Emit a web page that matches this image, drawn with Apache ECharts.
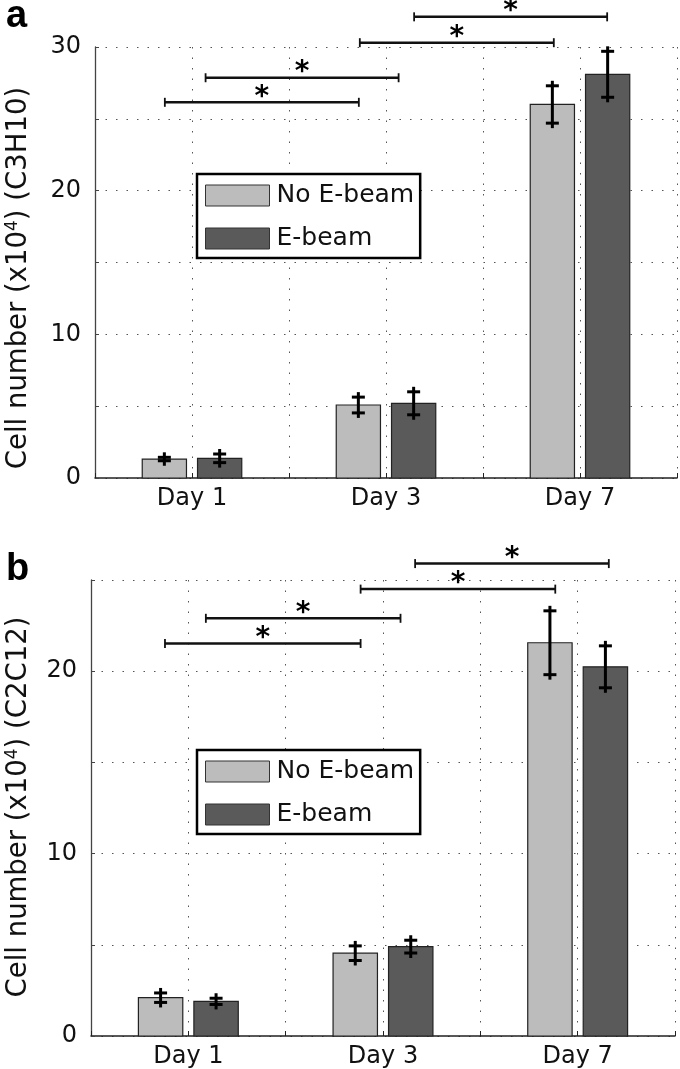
<!DOCTYPE html>
<html>
<head>
<meta charset="utf-8">
<script src="https://cdn.jsdelivr.net/npm/echarts@6/dist/echarts.min.js"></script>
<style>html,body{margin:0;padding:0;background:#fff}#c{width:680px;height:1069px}</style>
</head>
<body>
<div id="c"></div>
<script>
// ---- data ----
var days = ['Day 1', 'Day 3', 'Day 7'];
var dayPos = [1, 3, 5];
var seriesNames = ['No E-beam', 'E-beam'];

// panel a (C3H10)
var aNoBeam = [1.32, 5.08, 26.0];
var aNoBeamErr = [0.12, 0.55, 1.3];
var aBeam = [1.37, 5.2, 28.1];
var aBeamErr = [0.3, 0.8, 1.6];
var aSigStart = [0.72, 1.14, 2.73, 3.29];
var aSigEnd = [2.72, 3.13, 4.73, 5.28];
var aSigY = [26.15, 27.86, 30.3, 32.1];

// panel b (C2C12)
var bNoBeam = [2.1, 4.54, 21.56];
var bNoBeamErr = [0.26, 0.4, 1.75];
var bBeam = [1.9, 4.9, 20.24];
var bBeamErr = [0.17, 0.35, 1.15];
var bSigStart = [0.76, 1.18, 2.77, 3.33];
var bSigEnd = [2.77, 3.18, 4.77, 5.32];
var bSigY = [21.52, 22.9, 24.5, 25.9];

var yTicksA = {min: 0, max: 30, step: 5, labelStep: 10};
var yTicksB = {min: 0, max: 25, step: 5, labelStep: 10};

// ---- styling ----
var FONT = 'DejaVu Sans';
var LIGHT = '#bcbcbc';
var DARK = '#5a5a5a';
var BAR_W = 0.456;
var OFFSETS = [-0.285, 0.285];

function barData(vals, errs) {
  return vals.map(function (v, i) { return [dayPos[i], v, errs[i]]; });
}
function sigData(s, e, y) {
  return s.map(function (v, i) { return [v, e[i], y[i]]; });
}

function barRender(offset) {
  return function (params, api) {
    var x = api.value(0) + offset, v = api.value(1), e = api.value(2);
    var p0 = api.coord([x - BAR_W / 2, v]);
    var p1 = api.coord([x + BAR_W / 2, 0]);
    var c = api.coord([x, v]);
    var top = api.coord([x, v + e]);
    var bot = api.coord([x, v - e]);
    var st = api.style();
    return {
      type: 'group',
      children: [
        {type: 'rect', shape: {x: p0[0], y: p0[1], width: p1[0] - p0[0], height: p1[1] - p0[1]},
         style: {fill: st.fill, stroke: '#222', lineWidth: 1.2}},
        {type: 'line', shape: {x1: c[0], y1: top[1] - 5, x2: c[0], y2: bot[1] + 5},
         style: {stroke: '#000', lineWidth: 3}},
        {type: 'line', shape: {x1: c[0] - 6.5, y1: top[1], x2: c[0] + 6.5, y2: top[1]},
         style: {stroke: '#000', lineWidth: 3}},
        {type: 'line', shape: {x1: c[0] - 6.5, y1: bot[1], x2: c[0] + 6.5, y2: bot[1]},
         style: {stroke: '#000', lineWidth: 3}}
      ]
    };
  };
}

function sigRender(params, api) {
  var a = api.coord([api.value(0), api.value(2)]);
  var b = api.coord([api.value(1), api.value(2)]);
  var y = a[1];
  return {
    type: 'group',
    children: [
      {type: 'line', shape: {x1: a[0], y1: y, x2: b[0], y2: y}, style: {stroke: '#111', lineWidth: 2.5}},
      {type: 'line', shape: {x1: a[0], y1: y - 4.5, x2: a[0], y2: y + 4.5}, style: {stroke: '#111', lineWidth: 1.8}},
      {type: 'line', shape: {x1: b[0], y1: y - 4.5, x2: b[0], y2: y + 4.5}, style: {stroke: '#111', lineWidth: 1.8}},
      {type: 'text', x: (a[0] + b[0]) / 2, y: y - 5,
       style: {text: '*', fill: '#000', font: 'bold 28px "DejaVu Sans"', align: 'center', verticalAlign: 'middle'}}
    ]
  };
}

function xAxis(gi) {
  return {
    type: 'value', gridIndex: gi, min: 0, max: 6, interval: 1,
    axisLine: {lineStyle: {color: '#222', width: 1.5}},
    axisTick: {inside: true, length: 5, lineStyle: {color: '#222'}},
    axisLabel: {
      margin: 9, color: '#111', fontFamily: FONT, fontSize: 24,
      formatter: function (v) { var i = dayPos.indexOf(v); return i >= 0 ? days[i] : ''; }
    },
    splitLine: {show: true, lineStyle: {type: [1.5, 9], color: '#555', width: 1}}
  };
}
function yAxis(gi, t) {
  return {
    type: 'value', gridIndex: gi, min: t.min, max: t.max, interval: t.step,
    axisLine: {show: true, lineStyle: {color: '#444', width: 1.3}},
    axisTick: {show: true, inside: true, length: 4, lineStyle: {color: '#444'}},
    axisLabel: {
      margin: 14, color: '#111', fontFamily: FONT, fontSize: 24,
      formatter: function (v) { return v % t.labelStep === 0 ? String(v) : ''; }
    },
    splitLine: {show: true, lineStyle: {type: [1.5, 9], color: '#555', width: 1}}
  };
}

var colors = [LIGHT, DARK];
var series = [];
[[aNoBeam, aNoBeamErr, aBeam, aBeamErr, 0], [bNoBeam, bNoBeamErr, bBeam, bBeamErr, 1]].forEach(function (p) {
  var gi = p[4];
  [0, 1].forEach(function (k) {
    series.push({
      type: 'custom', name: seriesNames[k], xAxisIndex: gi, yAxisIndex: gi,
      itemStyle: {color: colors[k]},
      encode: {x: 0, y: 1},
      renderItem: barRender(OFFSETS[k]),
      data: barData(p[k * 2], p[k * 2 + 1]),
      z: 3
    });
  });
});
series.push({type: 'custom', xAxisIndex: 0, yAxisIndex: 0, clip: false, renderItem: sigRender,
  encode: {x: 0, y: 2}, data: sigData(aSigStart, aSigEnd, aSigY), z: 4});
series.push({type: 'custom', xAxisIndex: 1, yAxisIndex: 1, clip: false, renderItem: sigRender,
  encode: {x: 0, y: 2}, data: sigData(bSigStart, bSigEnd, bSigY), z: 4});

function legend(top) {
  return {
    left: 197, top: top, orient: 'vertical', selectedMode: false,
    data: seriesNames.map(function (n) { return {name: n, icon: 'rect'}; }),
    itemWidth: 64, itemHeight: 21, itemGap: 18,
    padding: [9, 6, 7, 8],
    backgroundColor: '#fff', borderColor: '#000', borderWidth: 2.5,
    itemStyle: {borderColor: '#333', borderWidth: 1},
    textStyle: {fontFamily: FONT, fontSize: 25, color: '#111', lineHeight: 21, padding: [0, 0, 0, 2]}
  };
}

var ylabelRich = {sup: {fontSize: 17, fontFamily: FONT, fill: '#111', verticalAlign: 'bottom', padding: [0, 0, 12, 0]}};

var option = {
  animation: false,
  backgroundColor: '#fff',
  grid: [
    {left: 95, right: 1, top: 47, bottom: 591, containLabel: false},
    {left: 91, right: 5, top: 580, bottom: 33, containLabel: false}
  ],
  xAxis: [xAxis(0), xAxis(1)],
  yAxis: [yAxis(0, yTicksA), yAxis(1, yTicksB)],
  legend: [legend(174), legend(750)],
  series: series,
  graphic: [
    {type: 'text', left: 6, top: -2, style: {text: 'a', font: 'bold 38px "Liberation Sans"', fill: '#000'}},
    {type: 'text', left: 6, top: 551, style: {text: 'b', font: 'bold 38px "Liberation Sans"', fill: '#000'}},
    {type: 'text', x: 19, y: 278, rotation: Math.PI / 2,
     style: {text: 'Cell number (x10{sup|4}) (C3H10)', font: '27.5px "DejaVu Sans"', fill: '#111',
             align: 'center', verticalAlign: 'middle', rich: ylabelRich}},
    {type: 'text', x: 19, y: 807, rotation: Math.PI / 2,
     style: {text: 'Cell number (x10{sup|4}) (C2C12)', font: '27.5px "DejaVu Sans"', fill: '#111',
             align: 'center', verticalAlign: 'middle', rich: ylabelRich}}
  ]
};

var chart = echarts.init(document.getElementById('c'), null, {renderer: 'canvas'});
chart.setOption(option);
</script>
</body>
</html>
